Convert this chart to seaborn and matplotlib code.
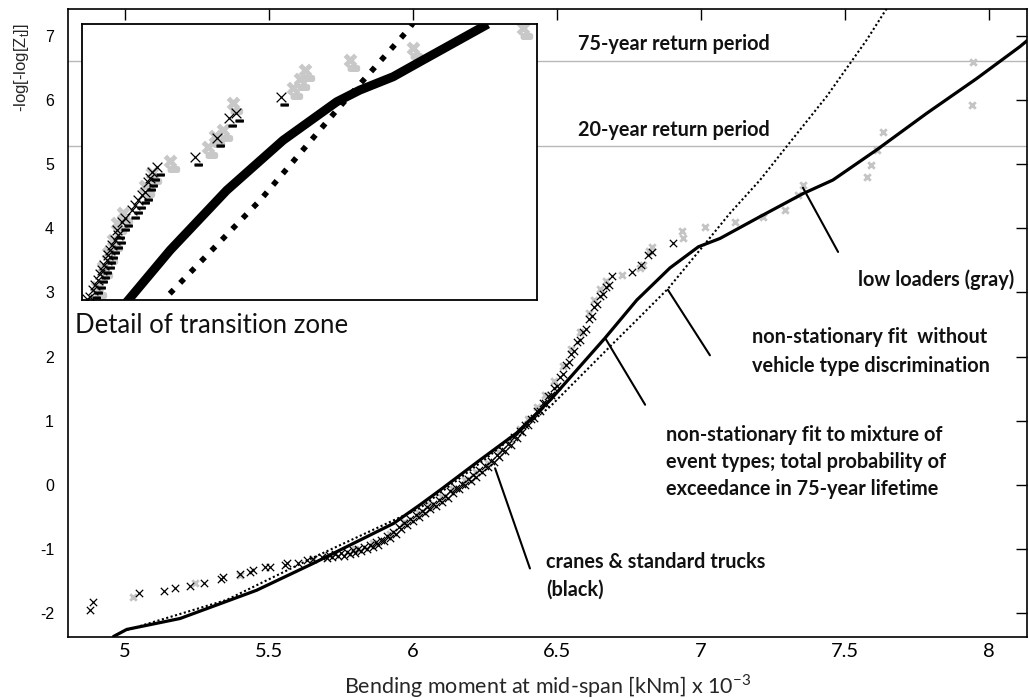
import numpy as np
import pandas as pd
import matplotlib
matplotlib.use("Agg")
import matplotlib.pyplot as plt
import seaborn as sns
from matplotlib.path import Path

# ---------------- data ----------------
# fitted curves, main axes
mix_x = [4.96, 5.006, 5.191, 5.457, 5.654, 5.932, 6.024, 6.094, 6.233, 6.36, 6.476, 6.667,
         6.777, 6.892, 6.991, 7.066, 7.205, 7.355, 7.458, 7.61, 7.784, 7.957, 8.108, 8.14]
mix_y = [-2.36, -2.25, -2.08, -1.64, -1.22, -0.60, -0.31, -0.08, 0.39, 0.81, 1.32, 2.29,
         2.88, 3.38, 3.71, 3.84, 4.18, 4.54, 4.75, 5.22, 5.79, 6.33, 6.83, 6.95]
nodisc_x = [5.006, 5.353, 5.654, 6.024, 6.25, 6.476, 6.696, 6.777, 6.886, 7.02, 7.10,
            7.205, 7.297, 7.436, 7.575, 7.646]
nodisc_y = [-2.26, -1.79, -1.13, -0.36, 0.40, 1.22, 2.21, 2.57, 3.06, 3.79, 4.23,
            4.75, 5.27, 6.05, 6.93, 7.43]

# cranes & standard trucks (black)
black_x = [4.878, 4.888, 5.049, 5.136, 5.174, 5.226, 5.274, 5.333, 5.341, 5.399, 5.434, 5.445,
           5.486, 5.503, 5.556, 5.561, 5.602, 5.631, 5.654, 5.683,
           5.70, 5.71, 5.72, 5.73, 5.74, 5.75, 5.76, 5.77, 5.78, 5.79,
           5.80, 5.81, 5.82, 5.83, 5.84, 5.85, 5.86, 5.87, 5.88, 5.89,
           5.90, 5.91, 5.92, 5.93, 5.94, 5.95, 5.96, 5.97, 5.98, 5.99,
           6.00, 6.01, 6.02, 6.03, 6.04, 6.05, 6.06, 6.07, 6.08, 6.09,
           6.10, 6.11, 6.12, 6.13, 6.14, 6.15, 6.16, 6.17, 6.18, 6.19,
           6.20, 6.21, 6.22, 6.23, 6.24, 6.25, 6.26, 6.27, 6.28, 6.29,
           6.30, 6.31, 6.32, 6.33, 6.34, 6.35, 6.36, 6.37, 6.38, 6.39,
           6.40, 6.41, 6.42, 6.43, 6.44, 6.45, 6.46, 6.47, 6.48, 6.49,
           6.50, 6.51, 6.52, 6.53, 6.54, 6.55, 6.56, 6.57, 6.58, 6.59,
           6.60, 6.61, 6.62, 6.63, 6.64, 6.65, 6.66, 6.67, 6.68, 6.69,
           6.759, 6.793, 6.817, 6.829, 6.904]
black_y = [-1.94, -1.82, -1.69, -1.65, -1.61, -1.58, -1.52, -1.47, -1.43, -1.39, -1.35, -1.33,
           -1.28, -1.28, -1.25, -1.22, -1.21, -1.17, -1.16, -1.12,
           -1.13, -1.09, -1.12, -1.08, -1.11, -1.06, -1.10, -1.05, -1.08, -1.02,
           -1.06, -0.99, -1.03, -0.96, -1.00, -0.93, -0.97, -0.89, -0.93, -0.85,
           -0.88, -0.79, -0.82, -0.73, -0.76, -0.66, -0.69, -0.60, -0.62, -0.53,
           -0.56, -0.47, -0.50, -0.41, -0.44, -0.35, -0.38, -0.29, -0.32, -0.23,
           -0.26, -0.17, -0.20, -0.10, -0.13, -0.04, -0.07, 0.02, 0.00, 0.09,
           0.06, 0.16, 0.13, 0.23, 0.20, 0.30, 0.28, 0.38, 0.36, 0.46,
           0.44, 0.55, 0.53, 0.64, 0.63, 0.74, 0.73, 0.84, 0.83, 0.93,
           0.93, 1.03, 1.04, 1.15, 1.16, 1.27, 1.28, 1.39, 1.40, 1.51,
           1.54, 1.68, 1.73, 1.87, 1.91, 2.04, 2.08, 2.22, 2.26, 2.39,
           2.43, 2.58, 2.63, 2.78, 2.82, 2.95, 2.98, 3.08, 3.12, 3.25,
           3.32, 3.43, 3.58, 3.63, 3.77]

# low loaders (gray)
gray_x = [5.028, 5.243, 5.399, 5.654,
          5.80, 5.86, 5.92, 5.97, 6.02, 6.06, 6.10, 6.14, 6.18, 6.22, 6.26, 6.30, 6.34,
          6.37, 6.40, 6.43, 6.46, 6.49, 6.52, 6.55, 6.58, 6.61, 6.63, 6.65, 6.67,
          6.724, 6.788, 6.80, 6.829, 6.82, 6.933, 6.939, 7.014, 7.118, 7.216, 7.292, 7.338,
          7.355, 7.575, 7.592, 7.61, 7.633, 7.94, 7.946]
gray_y = [-1.74, -1.53, -1.41, -1.16,
          -0.99, -0.90, -0.76, -0.58, -0.43, -0.31, -0.19, -0.06, 0.07, 0.20, 0.35, 0.51, 0.70,
          0.87, 1.02, 1.22, 1.40, 1.62, 1.86, 2.12, 2.38, 2.68, 2.88, 3.05, 3.18,
          3.27, 3.38, 3.42, 3.71, 3.65, 3.95, 3.84, 4.02, 4.10, 4.18, 4.28, 4.52,
          4.67, 4.80, 4.98, 5.22, 5.50, 5.92, 6.59]

return_levels = [5.28, 6.60]
return_labels = ["20-year return period", "75-year return period"]

# inset: detail of transition zone
in_mix_x = [6.642, 6.697, 6.759, 6.821, 6.880, 6.905, 6.942, 6.971, 7.046]
in_mix_y = [2.73, 3.66, 4.59, 5.37, 5.97, 6.15, 6.36, 6.59, 7.18]
in_nodisc_x = [6.686, 6.693, 6.796, 6.880, 6.959, 6.966]
in_nodisc_y = [2.80, 2.93, 4.44, 5.84, 7.10, 7.24]
in_black_x = [6.682, 6.673, 6.669, 6.662, 6.655, 6.644, 6.638, 6.636, 6.631, 6.627, 6.622,
              6.618, 6.612, 6.609, 6.605, 6.614, 6.620, 6.624, 6.629, 6.633, 6.640, 6.647,
              6.658, 6.666, 6.675, 6.677, 6.724, 6.748, 6.761, 6.769, 6.819]
in_black_y = [4.96, 4.72, 4.57, 4.44, 4.28, 4.10, 3.97, 3.82, 3.66, 3.51, 3.35,
              3.19, 3.04, 2.93, 2.90, 3.12, 3.28, 3.43, 3.59, 3.74, 3.90, 4.16,
              4.36, 4.52, 4.78, 4.88, 5.11, 5.40, 5.71, 5.79, 6.05]
in_gray_x = [6.697, 6.677, 6.669, 6.645, 6.638, 6.634, 6.629, 6.623, 6.616, 6.739, 6.746,
             6.755, 6.766, 6.832, 6.840, 6.845, 6.895, 6.964, 7.085]
in_gray_y = [5.04, 4.86, 4.65, 4.23, 4.08, 3.82, 3.61, 3.40, 3.09, 5.27, 5.43,
             5.53, 5.95, 6.18, 6.33, 6.46, 6.62, 6.80, 7.12]

# annotation pointers (data coordinates: from curve to label)
pointers = {
    "low":    [(7.354, 4.63), (7.476, 3.63)],
    "nodisc": [(6.885, 3.04), (7.031, 2.02)],
    "mix":    [(6.667, 2.29), (6.806, 1.25)],
    "crane":  [(6.285, 0.26), (6.406, -1.30)],
}

# ---------------- style ----------------
sns.set_theme(style="white")
plt.rcParams["font.family"] = ["Liberation Sans", "DejaVu Sans"]
plt.rcParams["axes.unicode_minus"] = False

W, H = 1029, 698
fig = plt.figure(figsize=(W / 100, H / 100), dpi=100)


def fx(px):
    return px / W


def fy(py):
    return 1 - py / H


ax = fig.add_axes([fx(68), fy(637), (1027 - 68) / W, (637 - 9) / H])
ax.set_xlim(4.802, 8.132)
ax.set_ylim(-2.368, 7.414)

for lev in return_levels:
    ax.axhline(lev, color="#b8b8b8", lw=1.0, zorder=1)

# data markers
sns.scatterplot(x=black_x, y=black_y, ax=ax, marker="x", s=28, color="black",
                linewidth=0.9, zorder=3)
sns.scatterplot(x=gray_x, y=gray_y, ax=ax, marker="x", s=22, color="#c4c4c4",
                linewidth=2.0, zorder=2)

sns.lineplot(x=mix_x, y=mix_y, ax=ax, sort=False, estimator=None, color="black",
             lw=2.3, zorder=4)
sns.lineplot(x=nodisc_x, y=nodisc_y, ax=ax, sort=False, estimator=None, color="black",
             lw=1.5, linestyle=(0, (1, 1.2)), zorder=4)

for key, pts in pointers.items():
    ax.plot([pts[0][0], pts[1][0]], [pts[0][1], pts[1][1]], color="black", lw=1.5, zorder=5)

ax.set_xticks([5, 5.5, 6, 6.5, 7, 7.5, 8])
ax.set_xticklabels(["5", "5.5", "6", "6.5", "7", "7.5", "8"])
ax.set_yticks([-2, -1, 0, 1, 2, 3, 4, 5, 6, 7])
ax.tick_params(direction="in", top=True, right=True, length=8, width=1.0,
               colors="black", labelsize=11.5)
ax.tick_params(axis="x", pad=4)
ax.tick_params(axis="y", pad=10)
for lab in ax.get_xticklabels():
    lab.set_family(["DejaVu Sans Condensed", "Liberation Sans Narrow", "Lato", "DejaVu Sans"])
    lab.set_fontsize(14.5)
for sp in ax.spines.values():
    sp.set_color("black")
    sp.set_linewidth(1.2)
ax.set_xlabel("")
ax.set_ylabel("")

# texts (label lines placed one by one)
bold = dict(family=["Lato", "DejaVu Sans"], weight="bold", fontsize=14.3, color="#111111")
fig.text(fx(578), fy(44), return_labels[1], va="center", ha="left", **bold)
fig.text(fx(578), fy(130), return_labels[0], va="center", ha="left", **bold)
label_lines = [
    (858, 280, "low loaders (gray)"),
    (752, 337, "non-stationary fit  without"),
    (752, 366, "vehicle type discrimination"),
    (666, 435, "non-stationary fit to mixture of"),
    (666, 462, "event types; total probability of"),
    (666, 489, "exceedance in 75-year lifetime"),
    (546, 562, "cranes & standard trucks"),
    (546, 590, "(black)"),
]
for px_, py_, txt in label_lines:
    fig.text(fx(px_), fy(py_), txt, va="center", ha="left", **bold)

fig.text(fx(75), fy(325), "Detail of transition zone", va="center", ha="left",
         family=["Lato", "DejaVu Sans"], fontsize=18.5, color="#111111")

fig.text(fx(548), fy(686), r"Bending moment at mid-span [kNm] x 10$^{\mathregular{-3}}$",
         ha="center", va="center",
         family=["DejaVu Sans Condensed", "Liberation Sans Narrow", "Lato", "DejaVu Sans"],
         fontsize=15.5)
fig.text(fx(22), fy(68), "-log[-log[Z$_\\mathregular{t}$]]", rotation=90, ha="center",
         va="center", family=["Liberation Sans", "DejaVu Sans"], fontsize=12)

# ---------------- inset ----------------
ins = fig.add_axes([fx(82), fy(300), (537 - 82) / W, (300 - 24) / H], zorder=10)
ins.set_facecolor("white")
ins.set_xlim(6.6, 7.1)
ins.set_ylim(2.882, 7.181)

xd = Path([(-1, -1), (1, 1), (-1, 1), (1, -1),
           (-0.1, -1.35), (1.4, -1.35), (1.4, -1.75), (-0.1, -1.75), (-0.1, -1.35)],
          [Path.MOVETO, Path.LINETO, Path.MOVETO, Path.LINETO,
           Path.MOVETO, Path.LINETO, Path.LINETO, Path.LINETO, Path.CLOSEPOLY])

sns.scatterplot(x=in_gray_x, y=in_gray_y, ax=ins, marker=xd, s=170, color="#c8c8c8",
                edgecolor="#c8c8c8", linewidth=3.5, zorder=2)
sns.scatterplot(x=in_black_x, y=in_black_y, ax=ins, marker=xd, s=150, color="black",
                edgecolor="black", linewidth=0.9, zorder=3)
sns.lineplot(x=in_mix_x, y=in_mix_y, ax=ins, sort=False, estimator=None, color="black",
             lw=6.5, zorder=4, solid_capstyle="butt")
sns.lineplot(x=in_nodisc_x, y=in_nodisc_y, ax=ins, sort=False, estimator=None, color="black",
             lw=4.0, linestyle=(0, (1, 1.7)), zorder=4)
ins.set_xticks([])
ins.set_yticks([])
ins.set_xlabel("")
ins.set_ylabel("")
for sp in ins.spines.values():
    sp.set_color("black")
    sp.set_linewidth(1.3)

fig.savefig("out.png", dpi=100)
